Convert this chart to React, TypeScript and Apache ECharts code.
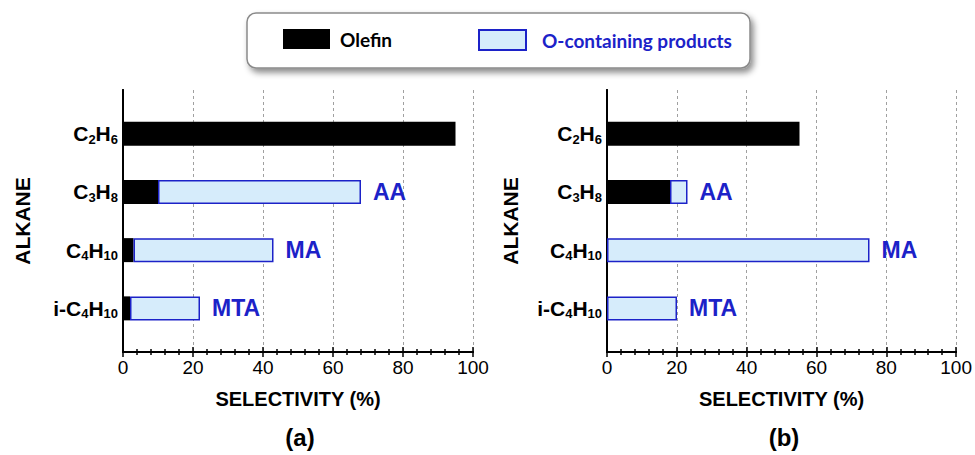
import React, { useEffect, useRef } from "react";
import * as echarts from "echarts";

const categories = ["C2H6", "C3H8", "C4H10", "i-C4H10"];
const olefinA = [95, 10, 3, 2];
const oxyA = [0, 58, 40, 20];
const olefinB = [55, 18, 0, 0];
const oxyB = [0, 5, 75, 20];
const productLabels = ["", "AA", "MA", "MTA"];
const seriesNames = ["Olefin", "O-containing products"];
const panelTitles = ["(a)", "(b)"];
const xAxisTitle = "SELECTIVITY (%)";
const yAxisTitle = "ALKANE";

const BLUE = "#1c22c8";
const LIGHT = "#d6ecfb";
const FONT = "'Liberation Sans', Arial, sans-serif";

function chemRich(name: string): string {
  let out = "";
  let buf = "";
  let isDigit = false;
  const flush = () => {
    if (buf) out += `{${isDigit ? "s" : "m"}|${buf}}`;
    buf = "";
  };
  for (const ch of name) {
    const d = ch >= "0" && ch <= "9";
    if (d !== isDigit) {
      flush();
      isDigit = d;
    }
    buf += ch;
  }
  flush();
  return out;
}

export default function App() {
  const ref = useRef<HTMLDivElement>(null);
  useEffect(() => {
    if (!ref.current) return;
    const chart = echarts.init(ref.current, undefined, { renderer: "svg" });
    const panels = [
      { left: 123, olefin: olefinA, oxy: oxyA },
      { left: 607, olefin: olefinB, oxy: oxyB },
    ];
    const W = 350;
    const TOP = 90;
    const H = 262;
    const PAD = 14.5;
    const grid: any[] = [];
    const xAxis: any[] = [];
    const yAxis: any[] = [];
    const series: any[] = [];
    const graphic: any[] = [
      {
        type: "rect",
        z: -1,
        shape: { x: 247, y: 13, width: 503, height: 55, r: 9 },
        style: {
          fill: "#fff",
          stroke: "#8a8a8a",
          lineWidth: 1.5,
          shadowBlur: 6,
          shadowOffsetX: 3,
          shadowOffsetY: 4,
          shadowColor: "rgba(0,0,0,0.45)",
        },
      },
    ];
    panels.forEach((p, i) => {
      const g0 = grid.length;
      grid.push({ left: p.left, top: TOP, width: W, height: H });
      grid.push({ left: p.left, top: TOP + PAD, width: W, height: H - 2 * PAD });
      const axisLine = { show: true, lineStyle: { color: "#000", width: 2 } };
      xAxis.push({
        type: "value",
        gridIndex: g0,
        position: "bottom",
        min: 0,
        max: 100,
        interval: 20,
        axisLine,
        axisTick: { show: true, inside: true, length: 5, lineStyle: { color: "#000", width: 1.5 } },
        minorTick: { show: true, splitNumber: 5, length: 3, lineStyle: { color: "#000", width: 1.5 } },
        splitLine: { show: true, lineStyle: { color: "#a0a0a0", type: [3, 3], width: 1 } },
        axisLabel: { color: "#000", fontSize: 19, fontFamily: FONT, margin: 6 },
        name: xAxisTitle,
        nameLocation: "middle",
        nameGap: 37,
        nameTextStyle: { color: "#000", fontSize: 20, fontWeight: "bold", fontFamily: FONT },
      });
      xAxis.push({
        type: "value",
        gridIndex: g0,
        position: "top",
        min: 0,
        max: 100,
        interval: 20,
        axisLine,
        axisTick: { show: true, inside: true, length: 5, lineStyle: { color: "#000", width: 1.5 } },
        minorTick: { show: true, splitNumber: 5, length: 3, lineStyle: { color: "#000", width: 1.5 } },
        splitLine: { show: false },
        axisLabel: { show: false },
      });
      const xBars = xAxis.length;
      xAxis.push({
        type: "value",
        gridIndex: g0 + 1,
        min: 0,
        max: 100,
        show: false,
      });
      yAxis.push({
        type: "value",
        gridIndex: g0,
        position: "left",
        min: 0,
        max: 1,
        axisLine,
        axisTick: { show: false },
        axisLabel: { show: false },
        splitLine: { show: false },
        name: yAxisTitle,
        nameLocation: "middle",
        nameRotate: 90,
        nameGap: i === 0 ? 90 : 86,
        nameTextStyle: { color: "#000", fontSize: 21, fontWeight: "bold", fontFamily: FONT },
      });
      yAxis.push({
        type: "value",
        gridIndex: g0,
        position: "right",
        min: 0,
        max: 1,
        axisLine,
        axisTick: { show: false },
        axisLabel: { show: false },
        splitLine: { show: false },
      });
      const yBars = yAxis.length;
      yAxis.push({
        type: "category",
        gridIndex: g0 + 1,
        data: categories,
        inverse: true,
        axisLine: { show: false },
        axisTick: { show: false },
        axisLabel: {
          margin: 5,
          formatter: (v: string) => chemRich(v),
          rich: {
            m: { fontSize: 21, fontWeight: "bold", fontFamily: FONT, color: "#000", lineHeight: 24 },
            s: {
              fontSize: 13,
              fontWeight: "bold",
              fontFamily: FONT,
              color: "#000",
              lineHeight: 13,
              verticalAlign: "bottom",
            },
          },
        },
      });
      series.push({
        type: "bar",
        name: seriesNames[0],
        xAxisIndex: xBars,
        yAxisIndex: yBars,
        stack: "s" + i,
        barWidth: 24,
        data: p.olefin,
        itemStyle: { color: "#000" },
      });
      series.push({
        type: "bar",
        name: seriesNames[1],
        xAxisIndex: xBars,
        yAxisIndex: yBars,
        stack: "s" + i,
        barWidth: 24,
        data: p.oxy.map((v) => (v === 0 ? { value: v, itemStyle: { borderWidth: 0 } } : v)),
        itemStyle: { color: LIGHT, borderColor: BLUE, borderWidth: 1.5 },
        label: {
          show: true,
          position: "right",
          distance: 12,
          color: BLUE,
          fontSize: 23,
          fontWeight: "bold",
          fontFamily: FONT,
          formatter: (prm: any) => productLabels[prm.dataIndex] || "",
        },
      });
      graphic.push({
        type: "text",
        x: p.left + W / 2 + 2,
        y: 437,
        style: {
          text: panelTitles[i],
          font: `bold 24px ${FONT}`,
          fill: "#000",
          textAlign: "center",
          textVerticalAlign: "middle",
        },
      });
    });

    chart.setOption({
      animation: false,
      backgroundColor: "#fff",
      legend: [
        {
          left: 283,
          top: 29,
          padding: 0,
          itemWidth: 47,
          itemHeight: 20,
          icon: "rect",
          data: [{ name: seriesNames[0], textStyle: { color: "#000" } }],
          textStyle: { fontSize: 19, fontWeight: "bold", fontFamily: "Lato, sans-serif", padding: [0, 0, 0, 5] },
          selectedMode: false,
        },
        {
          left: 478,
          top: 29,
          padding: 0,
          itemWidth: 47,
          itemHeight: 20,
          icon: "rect",
          data: [{ name: seriesNames[1], textStyle: { color: BLUE } }],
          textStyle: { fontSize: 19, fontWeight: "bold", fontFamily: "Lato, sans-serif", padding: [0, 0, 0, 11] },
          selectedMode: false,
        },
      ],
      grid,
      xAxis,
      yAxis,
      series,
      graphic,
    });
    return () => chart.dispose();
  }, []);
  return (
    <div
      ref={ref}
      style={{ position: "fixed", left: 0, top: 0, width: 975, height: 455, background: "#fff" }}
    />
  );
}
